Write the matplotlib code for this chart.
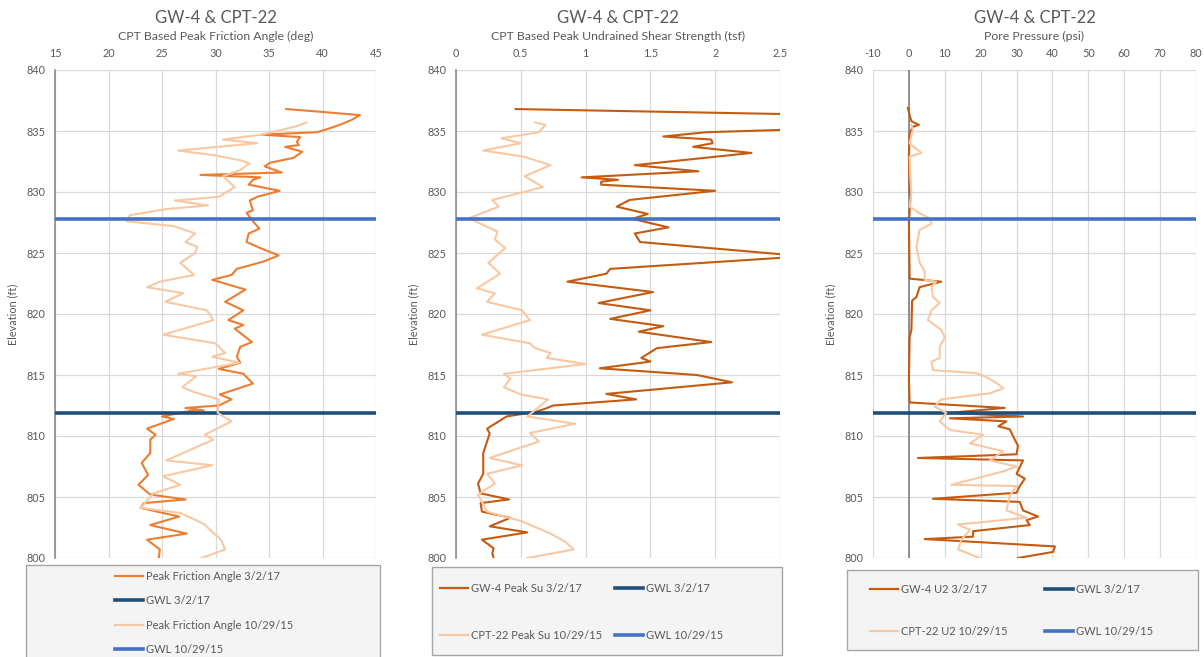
import matplotlib
matplotlib.use('Agg')
import matplotlib.pyplot as plt
from matplotlib.patches import Rectangle
from matplotlib.lines import Line2D
import numpy as np

plt.rcParams['font.family'] = ['Lato', 'DejaVu Sans']

# ---- data (elevation ft, value) ----
gw4_phi = [(836.8, 36.6), (836.6, 39.5), (836.3, 43.5), (835.9, 42.7), (835.5, 41.6), (835.2, 40.6),
           (834.9, 39.5), (834.7, 34.3), (834.5, 37.9), (834.1, 37.6), (833.85, 37.8), (833.7, 36.5),
           (833.3, 38.1), (832.8, 37.3), (832.4, 35.1), (832.1, 34.6), (831.6, 36.2), (831.4, 28.6),
           (831.2, 34.2), (831.0, 33.5), (830.6, 33.1), (830.1, 36.0), (829.6, 33.9), (829.3, 33.2),
           (828.5, 33.5), (828.3, 32.9), (827.6, 33.5), (827.0, 34.1), (826.6, 33.1), (825.9, 32.9),
           (825.4, 34.2), (824.8, 35.9), (824.3, 34.5), (823.7, 32.0), (823.2, 31.5), (822.8, 29.7),
           (822.0, 32.8), (821.0, 30.9), (820.3, 32.6), (819.5, 31.2), (819.1, 32.6), (818.8, 31.8),
           (817.7, 33.4), (817.3, 32.3), (816.5, 32.0), (816.0, 32.3), (815.5, 30.3), (815.1, 32.6),
           (814.3, 33.5), (813.8, 31.8), (813.4, 30.4), (813.0, 31.5), (812.5, 30.3), (812.3, 27.2),
           (812.1, 28.9), (812.05, 27.6), (811.6, 25.0), (811.4, 26.1), (810.6, 23.6), (810.1, 24.4),
           (809.7, 23.9), (808.6, 23.9), (807.8, 23.1), (806.8, 23.7), (806.0, 22.8), (805.2, 23.9),
           (804.8, 27.2), (804.5, 23.3), (804.1, 23.0), (803.4, 26.6), (802.7, 23.9), (802.0, 27.3),
           (801.5, 23.6), (800.7, 24.8), (800.0, 24.7)]

cpt_phi = [(835.7, 38.5), (835.4, 37.6), (834.7, 34.3), (834.3, 30.7), (834.0, 33.9), (833.4, 26.5),
           (833.0, 30.0), (832.6, 32.3), (832.35, 33.2), (831.8, 32.3), (831.3, 30.7), (830.4, 31.8),
           (829.6, 30.3), (829.3, 26.2), (828.9, 29.3), (828.6, 25.4), (828.1, 22.0), (827.6, 21.7),
           (827.2, 26.1), (826.6, 28.1), (825.9, 27.2), (825.5, 28.3), (825.0, 28.1), (824.2, 26.7),
           (823.2, 28.0), (822.65, 24.8), (822.2, 23.6), (821.7, 27.0), (821.0, 25.3), (820.3, 29.2),
           (819.5, 29.8), (818.3, 25.1), (817.6, 30.0), (816.8, 30.9), (816.5, 29.7), (816.0, 32.2),
           (815.1, 26.5), (814.9, 28.2), (814.0, 26.9), (813.6, 28.0), (813.0, 30.3), (811.9, 30.2),
           (811.2, 31.5), (810.1, 29.0), (809.7, 29.8), (808.0, 25.4), (807.6, 29.7), (806.7, 25.1),
           (806.0, 26.7), (805.3, 24.2), (804.1, 23.0), (803.7, 26.7), (802.8, 28.9), (801.5, 30.5),
           (800.7, 30.9), (800.0, 28.7)]

gw4_su = [(836.8, 0.46), (835.9, 5.0), (834.9, 1.93), (834.55, 1.60), (834.3, 1.97), (834.0, 1.98),
          (833.7, 1.83), (833.2, 2.28), (832.2, 1.38), (831.7, 1.87), (831.2, 0.97), (831.0, 1.25),
          (830.85, 1.12), (830.6, 1.12), (830.1, 2.0), (829.35, 1.34), (828.8, 1.24), (828.2, 1.48),
          (827.8, 1.36), (827.1, 1.64), (826.6, 1.38), (825.9, 1.42), (824.73, 2.69), (823.7, 1.19),
          (823.3, 1.16), (822.65, 0.86), (821.8, 1.52), (820.9, 1.10), (820.3, 1.50), (819.6, 1.19),
          (819.0, 1.60), (818.55, 1.41), (817.7, 1.97), (817.2, 1.55), (816.4, 1.43), (816.1, 1.50),
          (815.55, 1.11), (815.0, 1.86), (814.4, 2.13), (813.45, 1.16), (813.0, 1.39), (812.5, 0.75),
          (812.2, 0.68), (812.0, 0.62), (811.6, 0.39), (810.6, 0.24), (810.2, 0.26), (808.6, 0.21),
          (806.9, 0.21), (806.1, 0.17), (805.3, 0.19), (804.8, 0.41), (804.5, 0.19), (803.8, 0.20),
          (803.3, 0.42), (802.6, 0.26), (802.1, 0.55), (801.5, 0.20), (800.8, 0.29), (800.4, 0.28),
          (800.0, 0.29)]

cpt_su = [(835.7, 0.61), (835.5, 0.69), (834.9, 0.64), (834.4, 0.35), (834.0, 0.50), (833.4, 0.21),
          (832.9, 0.52), (832.2, 0.73), (831.3, 0.53), (830.4, 0.67), (829.35, 0.28), (828.8, 0.33),
          (827.85, 0.10), (826.75, 0.32), (826.1, 0.30), (825.4, 0.38), (824.2, 0.25), (823.3, 0.34),
          (822.1, 0.16), (821.7, 0.30), (821.0, 0.24), (820.3, 0.51), (819.5, 0.57), (818.3, 0.20),
          (817.6, 0.57), (817.2, 0.61), (816.8, 0.73), (816.4, 0.70), (815.9, 1.0), (815.1, 0.37),
          (814.7, 0.42), (814.0, 0.37), (813.4, 0.50), (813.0, 0.71), (811.6, 0.55), (811.0, 0.92),
          (810.25, 0.57), (809.55, 0.64), (808.2, 0.26), (807.6, 0.51), (806.9, 0.24), (806.1, 0.30),
          (805.2, 0.17), (803.8, 0.24), (803.0, 0.51), (802.0, 0.73), (801.35, 0.84), (800.7, 0.91),
          (800.0, 0.55)]

gw4_u2 = [(836.9, -0.3), (836.3, 0.2), (835.8, 0.7), (835.5, 2.8), (835.35, 1.1), (834.8, 0.2),
          (832.9, 0.0), (830.2, 0.2), (829.35, 0.4), (827.5, 0.0), (822.9, 0.2), (822.65, 9.0),
          (822.2, 3.0), (821.4, 2.1), (821.1, 0.9), (818.7, 0.7), (818.1, 0.2), (814.6, 0.0),
          (812.75, 0.2), (812.3, 26.7), (811.9, 11.4), (811.6, 31.8), (811.45, 11.4), (811.2, 27.2),
          (810.8, 24.9), (810.55, 28.1), (809.7, 29.5), (809.2, 30.4), (808.5, 30.0), (808.2, 2.5),
          (808.0, 31.8), (806.9, 30.0), (806.5, 32.3), (805.9, 30.9), (805.35, 30.0), (804.85, 6.7),
          (804.6, 30.9), (803.9, 31.8), (803.4, 36.0), (803.1, 32.8), (802.7, 33.7), (802.2, 17.9),
          (801.75, 17.9), (801.55, 4.4), (800.95, 40.7), (800.5, 40.2), (800.0, 30.4)]

cpt_u2 = [(835.5, 0.7), (835.1, 1.1), (834.0, 0.2), (833.85, 0.7), (833.2, 3.5), (832.9, 0.2),
          (831.3, 0.4), (829.9, 0.7), (828.8, 0.2), (828.25, 3.0), (827.85, 5.8), (827.4, 6.3),
          (826.9, 3.0), (825.5, 2.1), (824.2, 3.0), (823.5, 4.4), (822.8, 4.4), (822.65, 7.6),
          (822.25, 6.3), (821.4, 6.7), (820.9, 8.6), (820.3, 6.3), (819.5, 5.3), (818.7, 9.0),
          (818.1, 10.0), (817.3, 8.6), (816.4, 8.6), (816.1, 6.3), (815.4, 6.7), (815.15, 18.8),
          (814.9, 21.1), (814.35, 24.4), (813.9, 26.3), (813.5, 22.5), (813.0, 9.0), (812.4, 7.2),
          (811.9, 10.4), (811.2, 8.6), (810.5, 11.4), (810.1, 20.7), (809.4, 17.0), (808.75, 26.3),
          (808.0, 22.5), (807.5, 30.0), (807.1, 26.3), (806.0, 11.8), (805.9, 30.0), (805.1, 28.1),
          (803.9, 27.2), (803.3, 32.8), (802.75, 13.7), (802.3, 17.0), (801.5, 14.6), (800.7, 13.7),
          (800.0, 19.7)]

gwl_2017 = 811.85
gwl_2015 = 827.8

titles = ['CPT Based Peak Friction Angle (deg)', 'CPT Based Peak Undrained Shear Strength (tsf)',
          'Pore Pressure (psi)']
xlims = [(15, 45), (0, 2.5), (-10, 80)]
xticks = [[15, 20, 25, 30, 35, 40, 45], [0, 0.5, 1, 1.5, 2, 2.5], list(range(-10, 81, 10))]
xticklabels = [['15', '20', '25', '30', '35', '40', '45'], ['0', '0.5', '1', '1.5', '2', '2.5'],
               ['-10', '0', '10', '20', '30', '40', '50', '60', '70', '80']]
labels = [['Peak Friction Angle 3/2/17', 'GWL 3/2/17', 'Peak Friction Angle 10/29/15', 'GWL 10/29/15'],
          ['GW-4 Peak Su 3/2/17', 'GWL 3/2/17', 'CPT-22 Peak Su 10/29/15', 'GWL 10/29/15'],
          ['GW-4 U2 3/2/17', 'GWL 3/2/17', 'CPT-22 U2 10/29/15', 'GWL 10/29/15']]

W, H = 1204, 657
txt = '#595959'
c_light = '#F8C8A3'
c_navy = '#1F4E79'
c_blue = '#4472C4'
main_cols = ['#ED7D31', '#C55A11', '#C55A11']

fig = plt.figure(figsize=(W / 100, H / 100), dpi=100)
fig.patch.set_facecolor('white')

# axes boxes in pixels: left, right
ax_px = [(55, 376), (456, 780), (873, 1196)]
top_px, bot_px = 70, 558
series = [(gw4_phi, cpt_phi), (gw4_su, cpt_su), (gw4_u2, cpt_u2)]

for i, (l, r) in enumerate(ax_px):
    ax = fig.add_axes([l / W, 1 - bot_px / H, (r - l) / W, (bot_px - top_px) / H])
    main, cpt = series[i]
    e1, v1 = np.array(main).T
    e2, v2 = np.array(cpt).T
    ax.plot(v1, e1, color=main_cols[i], lw=1.5, zorder=3)
    ax.axhline(gwl_2017, color=c_navy, lw=2.6, zorder=4)
    ax.plot(v2, e2, color=c_light, lw=1.5, zorder=5)
    ax.axhline(gwl_2015, color=c_blue, lw=2.6, zorder=6)
    if i == 2:
        ax.axvline(0, color='#808080', lw=1.2, zorder=2)

    ax.set_xlim(*xlims[i])
    ax.set_ylim(800, 840)
    ax.set_xticks(xticks[i])
    ax.set_xticklabels(xticklabels[i])
    ax.set_yticks(range(800, 841, 5))
    ax.xaxis.tick_top()
    ax.tick_params(length=0, labelsize=7.8, colors=txt)
    ax.tick_params(axis='x', pad=8)
    ax.tick_params(axis='y', pad=7)
    ax.grid(True, color='#d9d9d9', lw=0.9, zorder=0)
    ax.set_axisbelow(True)
    for s in ['top', 'right', 'bottom']:
        ax.spines[s].set_visible(False)
    if i == 2:
        ax.spines['left'].set_visible(False)
    else:
        ax.spines['left'].set_color('#8c8c8c')
        ax.spines['left'].set_linewidth(1.2)
    ax.set_ylabel('Elevation (ft)', fontsize=7.8, color=txt, labelpad=6)

    ax.text(0.5, 1.107, 'GW-4 & CPT-22', transform=ax.transAxes, ha='center', va='center',
            fontsize=12, color=txt)
    ax.text(0.5, 1.069, titles[i], transform=ax.transAxes, ha='center', va='center',
            fontsize=8.8, color=txt)

# legend boxes
boxes = [(26, 565, 380, 662), (432, 567, 782, 655), (847, 570, 1198, 650)]
for x0, y0, x1, y1 in boxes:
    fig.add_artist(Rectangle((x0 / W, 1 - y1 / H), (x1 - x0) / W, (y1 - y0) / H,
                             transform=fig.transFigure, facecolor='#f4f4f4',
                             edgecolor='#a6a6a6', lw=1.0, zorder=0))


def handles(i):
    return [Line2D([], [], color=main_cols[i], lw=1.6), Line2D([], [], color=c_navy, lw=2.6),
            Line2D([], [], color=c_light, lw=1.6), Line2D([], [], color=c_blue, lw=2.6)]


def put_legend(hs, ls, x, y, spacing):
    leg = fig.legend(hs, ls, loc='upper left', bbox_to_anchor=(x / W, 1 - y / H),
                     frameon=False, fontsize=8, handlelength=2.5, handletextpad=0.3,
                     labelspacing=spacing, borderpad=0, borderaxespad=0)
    for t in leg.get_texts():
        t.set_color(txt)
    return leg


h = handles(0)
put_legend(h, labels[0], 115, 571, 1.2)
h = handles(1)
put_legend([h[0], h[2]], [labels[1][0], labels[1][2]], 440, 583, 3.2)
put_legend([h[1], h[3]], [labels[1][1], labels[1][3]], 615, 583, 3.2)
h = handles(2)
put_legend([h[0], h[2]], [labels[2][0], labels[2][2]], 870, 584, 2.8)
put_legend([h[1], h[3]], [labels[2][1], labels[2][3]], 1045, 584, 2.8)

fig.savefig('out.png', dpi=100)
